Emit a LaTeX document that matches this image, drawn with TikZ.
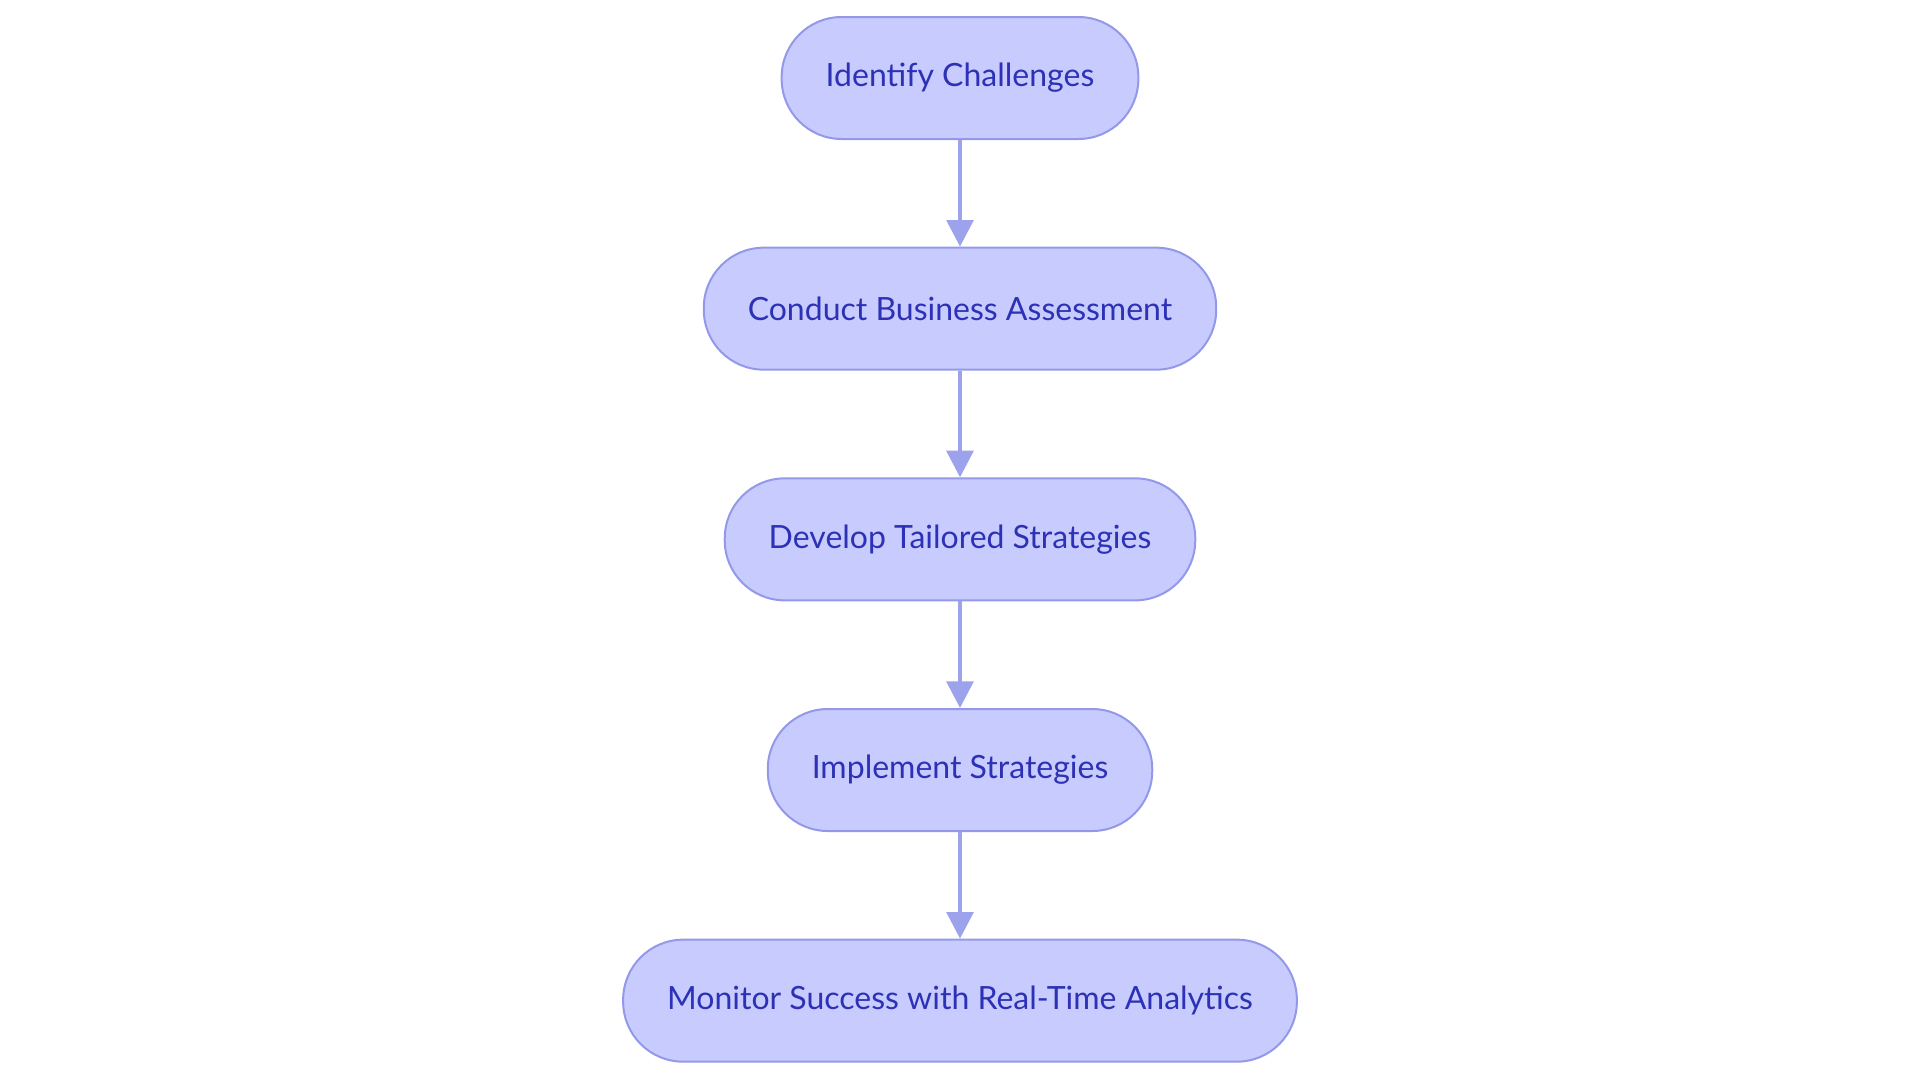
\documentclass[tikz,border=0pt]{standalone}
\usepackage{fontspec}
\setmainfont{Lato}
\usetikzlibrary{positioning,arrows.meta}
\definecolor{stepfill}{HTML}{C8CBFE}
\definecolor{stepline}{HTML}{9398E8}
\definecolor{steptext}{HTML}{2C31B5}
\definecolor{flowline}{HTML}{9CA2EC}
\begin{document}
\begin{tikzpicture}[x=0.75pt,y=-0.75pt,>={Triangle[length=20pt,width=20pt]},
	stepbox/.style={draw=stepline,fill=stepfill,line width=1.5pt,rounded corners=45pt,
		minimum height=91.5pt,inner xsep=33pt,text=steptext,font=\fontsize{24}{28}\selectfont},
	flow/.style={->,draw=flowline,line width=3pt},
	node distance=80pt]
	\useasboundingbox (0,0) rectangle (1920,1083);
	\node[stepbox] (ident) at (960,78) {Identify Challenges};
	\node[stepbox,below=of ident] (assess) {Conduct Business Assessment};
	\node[stepbox,below=of assess] (develop) {Develop Tailored Strategies};
	\node[stepbox,below=of develop] (impl) {Implement Strategies};
	\node[stepbox,below=of impl] (monitor) {Monitor Success with Real-Time Analytics};
	% arrows between the steps
	\draw[flow] (ident) -- (assess);
	\draw[flow] (assess) -- (develop);
	\draw[flow] (develop) -- (impl);
	\draw[flow] (impl) -- (monitor);
\end{tikzpicture}
\end{document}
